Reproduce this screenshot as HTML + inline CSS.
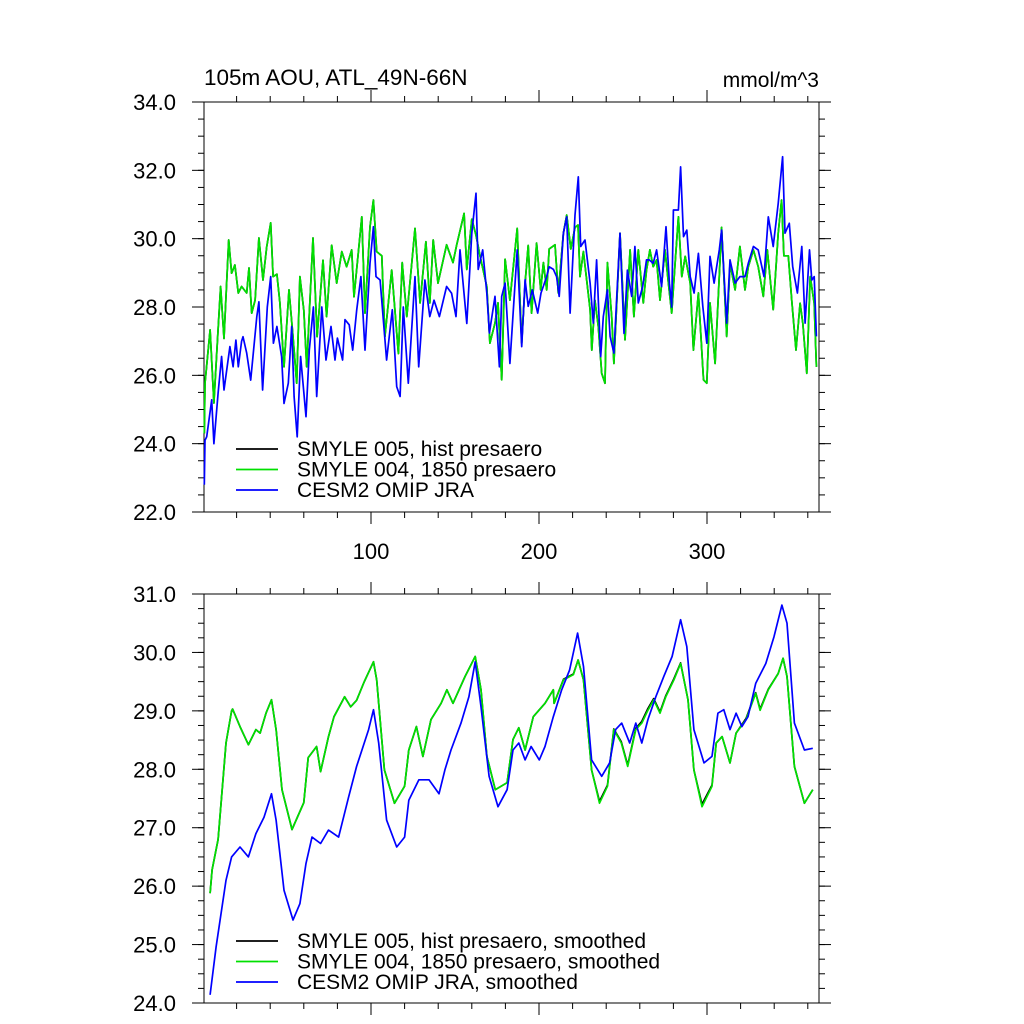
<!DOCTYPE html>
<html><head><meta charset="utf-8"><style>
html,body{margin:0;padding:0;background:#fff}
svg{display:block;font-family:"Liberation Sans",Arial,sans-serif}
</style></head><body>
<svg id="chart" width="1024" height="1024" viewBox="0 0 1024 1024" xmlns="http://www.w3.org/2000/svg">
<rect width="1024" height="1024" fill="#fff"/>
<text x="204" y="85" font-size="22.5">105m AOU, ATL_49N-66N</text>
<text x="819" y="87" font-size="21" text-anchor="end">mmol/m^3</text>
</svg>
<script>
// ---- data ----
const xTickValues = [100, 200, 300];
const xTickLabels = ["100", "200", "300"];
const topYTicks = [22, 24, 26, 28, 30, 32, 34];
const topYLabels = ["22.0", "24.0", "26.0", "28.0", "30.0", "32.0", "34.0"];
const botYTicks = [24, 25, 26, 27, 28, 29, 30, 31];
const botYLabels = ["24.0", "25.0", "26.0", "27.0", "28.0", "29.0", "30.0", "31.0"];
const topLegend = ["SMYLE 005, hist presaero", "SMYLE 004, 1850 presaero", "CESM2 OMIP JRA"];
const botLegend = ["SMYLE 005, hist presaero, smoothed", "SMYLE 004, 1850 presaero, smoothed", "CESM2 OMIP JRA, smoothed"];

const greenTop = [[0.8,24.3],[1.2,25.77],[4.2,27.33],[6.5,25.19],[8.5,26.94],[10.5,28.6],[12.5,27.08],[15.3,29.96],[17,28.99],[19,29.23],[21,28.41],[23,28.6],[26,28.41],[27.4,29.14],[29,27.82],[31,28.2],[33.3,30.02],[35.7,28.79],[37.9,29.76],[40.3,30.46],[41.7,28.89],[44,28.96],[45.8,28.12],[48.2,26.25],[51.2,28.5],[53.6,27.13],[55.8,25.77],[57.7,28.89],[60,27.91],[61.7,26.25],[65.5,30.02],[67.9,27.13],[71.4,29.37],[73.6,27.72],[76.6,29.81],[79.6,28.7],[82.6,29.62],[85.5,29.18],[88.5,29.67],[89.9,28.3],[94.5,30.64],[96.4,27.82],[99.4,30.35],[101.4,31.13],[103.4,29.62],[106.4,29.5],[108.3,27.13],[112.3,29.08],[116.3,26.64],[118.6,29.3],[121.3,27.72],[126.2,30.3],[129.2,28.12],[132.7,29.91],[135,28.12],[137,29.96],[139.9,28.7],[145,29.82],[148.8,29.3],[151,29.82],[155.4,30.74],[157,29.1],[160,30.57],[162.5,30.1],[164.9,29.5],[168.9,28.6],[170.8,26.94],[173.8,27.53],[175.6,28.12],[177.8,25.87],[179.8,29.4],[182.7,28.2],[187,30.3],[189.7,26.94],[191.7,28.7],[193.6,29.8],[195.6,27.82],[198.6,29.87],[201,28.5],[202.6,29.3],[204.6,28.5],[206.1,29.7],[209.5,29.82],[211.5,28.41],[214.5,30.16],[216.5,30.69],[218.9,29.7],[221.4,30.33],[223.2,30.4],[224.4,28.89],[226.4,29.62],[230.4,27.92],[231.4,26.74],[233.3,28.2],[235.3,27.43],[237.3,26.06],[239.3,25.77],[240.7,29.3],[243.3,27.72],[244.6,26.35],[248.2,30.16],[251.2,27.04],[254.2,29.67],[256.5,27.72],[259.1,29.67],[262.1,28.12],[264,29.08],[266,29.67],[268,29.18],[270,29.38],[272,28.2],[275,29.67],[277,28.7],[279,27.82],[281,29.28],[283,30.64],[285,28.89],[287,29.48],[290,28.7],[291.9,26.74],[294.9,28.41],[297.9,25.87],[299.9,25.77],[301.8,28.12],[304.8,26.35],[308.7,30.33],[311.7,27.14],[313.7,29.28],[316.7,28.5],[319.6,29.77],[322.6,28.5],[324.6,29.18],[327.6,29.67],[330.5,29.18],[333.5,28.31],[335.9,29.67],[339.4,27.92],[342.4,30.16],[344.4,31.13],[345.8,29.5],[348.4,29.5],[350.4,28.21],[353,26.74],[355.4,28.11],[357,27.53],[359.4,26.06],[361.4,28.89],[363.8,28.11],[365.1,26.25]];

const blackTop = [[0.8,24.3],[1.2,25.77],[4.2,27.33],[6.5,25.19],[8.5,26.94],[10.5,28.6],[12.5,27.08],[15.3,29.96],[17,28.99],[19,29.23],[21,28.41],[23,28.6],[26,28.41],[27.4,29.14],[29,27.82],[31,28.2],[33.3,30.02],[35.7,28.79],[37.9,29.76],[40.3,30.46],[41.7,28.89],[44,28.96],[45.8,28.12],[48.2,26.25],[51.2,28.5],[53.6,27.13],[55.8,25.77],[57.7,28.89],[60,27.91],[61.7,26.25],[65.5,30.02],[67.9,27.13],[71.4,29.37],[73.6,27.72],[76.6,29.81],[79.6,28.7],[82.6,29.62],[85.5,29.18],[88.5,29.67],[89.9,28.3],[94.5,30.64],[96.4,27.82],[99.4,30.35],[101.4,31.13],[103.4,29.62],[106.4,29.5],[108.3,27.13],[112.3,29.08],[116.3,26.64],[118.6,29.3],[121.3,27.72],[126.2,30.3],[129.2,28.12],[132.7,29.91],[135,28.12],[137,29.96],[139.9,28.7],[145,29.82],[148.8,29.3],[151,29.82],[155.4,30.74],[157,29.1],[160,30.57],[162.5,30.1],[164.9,29.5],[168.9,28.6],[170.8,26.94],[173.8,27.53],[175.6,28.12],[177.8,25.87],[179.8,29.4],[182.7,28.2],[187,30.3],[189.7,26.94],[191.7,28.7],[193.6,29.8],[195.6,27.82],[198.6,29.87],[201,28.5],[202.6,29.3],[204.6,28.5],[206.1,29.7],[209.5,29.82],[211.5,28.41],[214.5,30.16],[216.5,30.69],[218.9,29.7],[221.4,30.33],[223.2,30.4],[224.4,28.89],[226.4,29.62],[230.4,27.92],[231.4,26.74],[233.3,28.2],[235.3,27.43],[237.3,26.06],[239.3,25.77],[240.7,29.3],[243.3,27.72],[244.6,26.35],[248.2,30.16],[251.2,27.04],[254.2,29.67],[256.5,27.72],[259.1,29.67],[262.1,28.12],[264,29.08],[266,29.67],[268,29.18],[270,29.38],[272,28.2],[275,29.67],[277,28.7],[279,27.82],[281,29.28],[283,30.64],[285,28.89],[287,29.48],[290,28.7],[291.9,26.74],[294.9,28.41],[297.9,25.87],[299.9,25.77],[301.8,28.12],[304.8,26.35],[308.7,30.33],[311.7,27.14],[313.7,29.28],[316.7,28.5],[319.6,29.77],[322.6,28.5],[324.6,29.18],[327.6,29.67],[330.5,29.18],[333.5,28.31],[335.9,29.67],[339.4,27.92],[342.4,30.16],[344.4,31.13],[345.8,29.5],[348.4,29.5],[350.4,28.21],[353,26.74],[355.4,28.11],[357,27.53],[359.4,26.06],[361.4,28.89],[363.8,28.11],[365.1,26.25]];

const blueTop = [[0.8,22.8],[1.2,24.1],[2.2,24.2],[5.2,25.28],[6.5,24.0],[9,25.48],[11.1,26.55],[12.5,25.57],[16,26.84],[17.9,26.25],[19.6,27.03],[21,26.25],[23,27.0],[23.8,27.13],[26,26.65],[28.4,25.86],[32,27.72],[33.3,28.15],[35.5,25.57],[38.3,28.0],[40.3,28.89],[41.9,26.94],[44,27.43],[46.8,26.55],[48.2,25.18],[50.8,25.77],[52.8,27.43],[54.2,25.38],[56.1,24.2],[58.1,26.55],[61.3,24.79],[63.3,26.74],[65.7,28.0],[67.7,25.38],[70.7,28.0],[73.2,26.45],[76.2,27.43],[78.6,26.45],[80,27.09],[83.1,26.45],[84.5,27.63],[87,27.48],[89.1,26.74],[91.5,27.91],[94,28.89],[96.4,26.74],[99.4,29.28],[101.4,30.35],[103,28.89],[105.4,28.79],[109.3,26.45],[112.7,27.92],[115.3,25.67],[117.3,25.38],[119.2,28.0],[122.2,25.77],[126.2,28.89],[128.4,26.25],[132.1,28.79],[135,27.72],[137.5,28.2],[140.7,27.72],[145,28.6],[148,28.4],[150.6,27.72],[153,29.67],[157,27.52],[160,30.16],[162.5,31.33],[163.8,29.1],[166.5,29.67],[168.9,28.41],[170.5,27.24],[173.8,28.31],[176.4,26.25],[177.8,28.31],[179.8,28.7],[182.7,26.35],[187,29.67],[189.7,26.84],[191.7,28.8],[193.6,28.02],[196,28.5],[199.2,27.82],[201.2,28.41],[204.6,28.89],[206,29.18],[208.6,29.1],[210.5,28.89],[212,28.31],[214.5,30.16],[216.5,30.64],[218.5,27.82],[221.4,30.69],[223.4,31.81],[224.8,29.77],[227.4,29.96],[230.4,28.7],[232.3,27.53],[234.3,29.38],[236.7,26.55],[238.3,27.72],[240.7,28.5],[242.3,27.14],[244.6,26.65],[248.2,30.16],[250.6,27.23],[252.6,29.08],[255.2,28.31],[257.1,29.77],[259.1,28.12],[261.7,28.6],[264,29.38],[265.6,29.38],[268,29.28],[270,29.67],[273,28.6],[275.6,30.35],[277.6,28.7],[279,28.0],[280,30.84],[283,30.84],[284.3,32.1],[286,30.06],[288,30.25],[290,28.89],[292.3,28.41],[294.9,29.57],[297.5,28.02],[299.9,26.94],[301.8,29.48],[304.2,28.7],[307.3,29.67],[308.7,30.25],[311.7,27.53],[313.7,29.38],[316.7,28.7],[319.6,28.89],[322.6,28.89],[324.6,29.28],[327.6,29.77],[330.5,29.67],[333.9,28.89],[336.5,30.64],[339.4,29.77],[342.4,31.03],[345,32.4],[346.4,30.16],[349,30.45],[351,29.18],[353.8,28.41],[356.4,29.77],[358.4,27.53],[361,29.67],[362.4,28.79],[363.8,28.89],[365.1,27.14]];

const greenBot = [[4.2,25.88],[5.4,26.28],[9,26.8],[13.7,28.45],[17,29.0],[17.6,29.03],[22,28.73],[27,28.42],[31.5,28.68],[34,28.62],[37.5,28.96],[40.8,29.19],[43.5,28.68],[47,27.65],[53,26.97],[60,27.43],[62.6,28.2],[67.6,28.39],[70,27.96],[74.7,28.56],[78,28.9],[84.3,29.24],[87.9,29.07],[91.4,29.18],[96,29.5],[101.5,29.84],[103.4,29.53],[108,27.99],[114,27.42],[120,27.71],[122.5,28.33],[127,28.73],[130.9,28.22],[135.7,28.85],[141.7,29.13],[145.2,29.36],[148.8,29.13],[156,29.59],[162,29.93],[165.5,29.36],[169,28.22],[174,27.65],[181,27.77],[184.5,28.51],[188,28.71],[191.7,28.33],[196.6,28.9],[203.6,29.13],[208.5,29.36],[209,29.13],[214.6,29.53],[220.5,29.62],[223.3,29.87],[226.5,29.53],[231.3,27.99],[236,27.42],[240.8,27.71],[244.5,28.68],[249,28.45],[252.8,28.05],[257.6,28.68],[261.2,28.79],[264.8,29.01],[268.3,29.19],[272,28.96],[275.5,29.24],[280.3,29.53],[284.3,29.81],[288.7,29.19],[292.2,27.99],[297,27.36],[303,27.71],[305.5,28.45],[309,28.56],[313.7,28.11],[317.3,28.62],[323.2,28.85],[329,29.3],[331.6,29.01],[336.5,29.36],[342.4,29.64],[345.3,29.9],[347.6,29.59],[352,28.05],[358,27.42],[363,27.65]];

const blackBot = [[4.2,25.88],[5.4,26.28],[9,26.8],[13.7,28.45],[17,29.0],[17.6,29.03],[22,28.73],[27,28.42],[31.5,28.68],[34,28.62],[37.5,28.96],[40.8,29.19],[43.5,28.68],[47,27.65],[53,26.97],[60,27.43],[62.6,28.2],[67.6,28.39],[70,27.96],[74.7,28.56],[78,28.9],[84.3,29.24],[87.9,29.07],[91.4,29.18],[96,29.5],[101.5,29.84],[103.4,29.53],[108,27.99],[114,27.42],[120,27.71],[122.5,28.33],[127,28.73],[130.9,28.22],[135.7,28.85],[141.7,29.13],[145.2,29.36],[148.8,29.13],[156,29.59],[162,29.93],[165.5,29.36],[169,28.22],[174,27.65],[181,27.77],[184.5,28.51],[188,28.71],[191.7,28.33],[196.6,28.9],[203.6,29.13],[208.5,29.36],[209,29.13],[214.6,29.54],[220.5,29.63],[223.3,29.87],[226.5,29.53],[231.3,27.99],[236,27.45],[240.8,27.73],[244.5,28.69],[249,28.47],[252.8,28.07],[257.6,28.7],[261.2,28.82],[264.8,29.04],[268.3,29.21],[272,28.98],[275.5,29.26],[280.3,29.55],[284.3,29.82],[288.7,29.19],[292.2,27.99],[297,27.4],[303,27.73],[305.5,28.45],[309,28.56],[313.7,28.11],[317.3,28.62],[323.2,28.87],[329,29.31],[331.6,29.03],[336.5,29.37],[342.4,29.64],[345.3,29.9],[347.6,29.59],[352,28.05],[358,27.42],[363,27.65]];

const blueBot = [[4.2,24.14],[7.8,24.96],[13.7,26.1],[17,26.5],[22,26.67],[27,26.5],[31.5,26.9],[36.3,27.18],[40.8,27.58],[43.5,27.13],[48.2,25.93],[53.6,25.42],[57.7,25.7],[61.3,26.39],[64.9,26.84],[70,26.73],[74.7,26.96],[80.7,26.84],[86.7,27.53],[91.4,28.05],[98.6,28.68],[101.5,29.02],[104.6,28.45],[109.3,27.13],[115.3,26.67],[120,26.84],[122.5,27.47],[128.5,27.82],[134.5,27.82],[140.5,27.58],[144,27.99],[147.6,28.33],[153.6,28.79],[158.3,29.24],[162,29.84],[165.5,29.07],[170.3,27.88],[175.6,27.36],[181,27.65],[184.5,28.33],[188,28.45],[191.7,28.16],[195.3,28.39],[200.2,28.16],[203.6,28.39],[208.5,28.9],[213.5,29.36],[218.2,29.7],[223,30.33],[226.5,29.76],[231.3,28.16],[237.3,27.88],[242,28.11],[245.6,28.68],[249.2,28.79],[254,28.45],[257.6,28.79],[261.2,28.45],[264.8,28.85],[269.5,29.24],[274.3,29.59],[279.2,29.93],[284.3,30.56],[288,30.1],[292.2,28.68],[298.2,28.11],[303,28.22],[306.5,28.96],[310,29.02],[313.7,28.68],[317.3,28.96],[320.8,28.73],[324.4,28.9],[329,29.47],[335,29.81],[339.9,30.27],[344.6,30.81],[347.6,30.5],[352,28.79],[358,28.33],[363,28.36]];

// ---- layout ----
const NS = "http://www.w3.org/2000/svg";
const svg = document.getElementById("chart");
const X0 = 204, X1 = 819;
const xScale = m => 203 + m * 1.68;
const topP = {y0: 102, y1: 512, vmin: 22, vmax: 34};
const botP = {y0: 594, y1: 1003, vmin: 24, vmax: 31};
function yScale(p, v) { return p.y1 - (v - p.vmin) / (p.vmax - p.vmin) * (p.y1 - p.y0); }

function mk(tag, attrs, parent) {
  const e = document.createElementNS(NS, tag);
  for (const k in attrs) e.setAttribute(k, attrs[k]);
  (parent || svg).appendChild(e);
  return e;
}
function ln(x1, y1, x2, y2, parent, w) {
  return mk("line", {x1, y1, x2, y2, stroke: "#000", "stroke-width": w || 1}, parent);
}

function drawPanel(p, name, yTicks, yLabels, minorStep, showX) {
  const g = mk("g", {});
  
  
  ln(X0 - 12, p.y0, X1 + 12, p.y0, g);
  ln(X0 - 12, p.y1, X1 + 12, p.y1, g);
  ln(X0, p.y0, X0, p.y1, g);
  ln(X1, p.y0, X1, p.y1, g);
  for (let v = p.vmin; v <= p.vmax + 1e-6; v += minorStep) {
    const y = yScale(p, v);
    ln(X0 - 6, y, X0, y, g);
    ln(X1, y, X1 + 6, y, g);
  }
  yTicks.forEach((v, i) => {
    const y = yScale(p, v);
    ln(X0 - 12, y, X0, y, g);
    ln(X1, y, X1 + 12, y, g);
    const t = mk("text", {x: 176, y: y + 8, "font-size": 22, "text-anchor": "end"}, g);
    
    
    t.textContent = yLabels[i];
  });
  for (let m = 20; m <= 366; m += 20) {
    const x = xScale(m);
    const major = m % 100 === 0;
    const L = major ? 12 : 6;
    ln(x, p.y0 - L, x, p.y0, g);
    ln(x, p.y1, x, p.y1 + L, g);
  }
  if (showX) {
    xTickValues.forEach((v, i) => {
      const t = mk("text", {x: xScale(v), y: p.y1 + 47, "font-size": 22, "text-anchor": "middle"}, g);
      
      
      t.textContent = xTickLabels[i];
    });
  }
}

function drawSeries(p, data, color, name) {
  const d = data.map((pt, i) => (i ? "L" : "M") + xScale(pt[0]).toFixed(1) + "," + yScale(p, pt[1]).toFixed(1)).join("");
  const path = mk("path", {d, fill: "none", stroke: color, "stroke-width": 1.7, "stroke-linejoin": "round"});
  
  
}

function drawLegend(labels, yStart, name) {
  const colors = ["#000", "#00e000", "#0000ff"];
  labels.forEach((lab, i) => {
    const y = yStart + i * 20.5;
    const g = mk("g", {});
    
    
    mk("line", {x1: 236, y1: y, x2: 278, y2: y, stroke: colors[i], "stroke-width": 1.7}, g);
    const t = mk("text", {x: 297, y: y + 7, "font-size": 21}, g);
    t.textContent = lab;
  });
}

drawPanel(topP, "top-panel", topYTicks, topYLabels, 0.5, true);
drawPanel(botP, "bottom-panel", botYTicks, botYLabels, 0.25, false);
drawSeries(topP, blackTop, "#000", "top-smyle005-line");
drawSeries(topP, greenTop, "#00e000", "top-smyle004-line");
drawSeries(topP, blueTop, "#0000ff", "top-omip-jra-line");
drawSeries(botP, blackBot, "#000", "bottom-smyle005-smoothed-line");
drawSeries(botP, greenBot, "#00e000", "bottom-smyle004-smoothed-line");
drawSeries(botP, blueBot, "#0000ff", "bottom-omip-jra-smoothed-line");
drawLegend(topLegend, 449, "top-legend");
drawLegend(botLegend, 941, "bottom-legend");
</script>
</body></html>
